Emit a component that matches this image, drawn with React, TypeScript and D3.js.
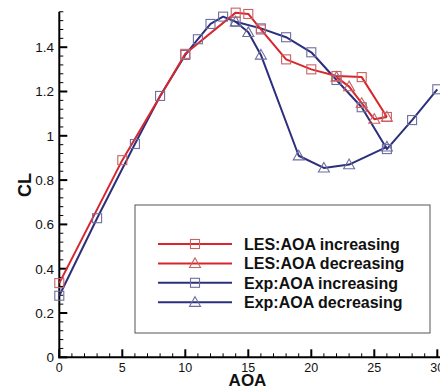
import React from "react";
import * as d3 from "d3";

const lesIncAoa = [0, 5, 10, 14, 15, 16, 18, 20, 22, 24, 26];
const lesIncCl = [0.335, 0.89, 1.37, 1.556, 1.55, 1.48, 1.345, 1.3, 1.27, 1.265, 1.085];
const lesDecAoa = [26, 25, 24, 23, 22];
const lesDecCl = [1.085, 1.075, 1.147, 1.222, 1.265];
const expIncAoa = [0, 3, 6, 8, 10, 11, 12, 13, 14, 16, 18, 20, 22, 24, 26, 28, 30];
const expIncCl = [0.278, 0.628, 0.963, 1.18, 1.365, 1.436, 1.505, 1.538, 1.515, 1.485, 1.445, 1.377, 1.252, 1.129, 0.94, 1.071, 1.21];
const expDecAoa = [26, 23, 21, 19, 16, 15, 14];
const expDecCl = [0.95, 0.87, 0.855, 0.91, 1.365, 1.467, 1.515];

const xTicks = [0, 5, 10, 15, 20, 25, 30];
const yTicks = [0, 0.2, 0.4, 0.6, 0.8, 1, 1.2, 1.4];
const legendLabels = ["LES:AOA increasing", "LES:AOA decreasing", "Exp:AOA increasing", "Exp:AOA decreasing"];

const RED = "#d8262c";
const BLUE = "#2c307c";
const RED_M = "#c96262";
const BLUE_M = "#6e6ea0";

const W = 440, H = 389;
const x = d3.scaleLinear().domain([0, 30]).range([59.3, 437.3]);
const y = d3.scaleLinear().domain([0, 1.56]).range([357.3, 357.3 - 1.56 * 221.5]);

type Series = { aoa: number[]; cl: number[]; color: string; mcolor: string; marker: "sq" | "tri" };
const series: Series[] = [
  { aoa: expIncAoa, cl: expIncCl, color: BLUE, mcolor: BLUE_M, marker: "sq" },
  { aoa: expDecAoa, cl: expDecCl, color: BLUE, mcolor: BLUE_M, marker: "tri" },
  { aoa: lesIncAoa, cl: lesIncCl, color: RED, mcolor: RED_M, marker: "sq" },
  { aoa: lesDecAoa, cl: lesDecCl, color: RED, mcolor: RED_M, marker: "tri" },
];
const legendSeries = [series[2], series[3], series[0], series[1]];

function Marker({ cx, cy, kind, color }: { cx: number; cy: number; kind: string; color: string }) {
  if (kind === "sq") {
    return <rect x={cx - 4.5} y={cy - 4.5} width={9} height={9} fill="none" stroke={color} strokeWidth={1.1} />;
  }
  const s = 5.5;
  return (
    <path
      d={`M${cx},${cy - s}L${cx + s},${cy + s * 0.75}L${cx - s},${cy + s * 0.75}Z`}
      fill="none"
      stroke={color}
      strokeWidth={1.1}
    />
  );
}

export default function App() {
  const line = d3
    .line<[number, number]>()
    .x((d) => x(d[0]))
    .y((d) => y(d[1]));

  const xMinor = d3.range(0, 31, 1).filter((v) => v % 5 !== 0);
  const yMinor = d3.range(0, 1.57, 0.04).filter((v) => Math.abs(v / 0.2 - Math.round(v / 0.2)) > 1e-6);

  const font = "Liberation Sans, Arial, sans-serif";
  const lx0 = 158, lx1 = 232, lmx = 195, ltx = 244;
  const ly = [244, 263.4, 282.8, 302.2];

  return (
    <svg width={W} height={H} style={{ position: "absolute", left: 0, top: 0, background: "#fff" }} fontFamily={font}>
      <rect x={0} y={0} width={W} height={H} fill="#fff" />
      {/* axes */}
      <line x1={x(0)} x2={x(0)} y1={y(0) + 1} y2={y(1.56)} stroke="#000" strokeWidth={2} />
      <line x1={x(0) - 1} x2={W} y1={y(0)} y2={y(0)} stroke="#000" strokeWidth={2} />
      {xTicks.map((t) => (
        <g key={"xt" + t}>
          <line x1={x(t)} x2={x(t)} y1={y(0)} y2={y(0) - 8} stroke="#000" strokeWidth={2} />
          <text x={x(t)} y={371.5} textAnchor="middle" fontSize={12.5} fill="#111">
            {t}
          </text>
        </g>
      ))}
      {xMinor.map((t) => (
        <line key={"xm" + t} x1={x(t)} x2={x(t)} y1={y(0)} y2={y(0) - 4} stroke="#000" strokeWidth={1} />
      ))}
      {yTicks.map((t) => (
        <g key={"yt" + t}>
          <line x1={x(0)} x2={x(0) + 8} y1={y(t)} y2={y(t)} stroke="#000" strokeWidth={2} />
          <text x={54} y={y(t) + 4.8} textAnchor="end" fontSize={13.5} fill="#111">
            {d3.format("~g")(t)}
          </text>
        </g>
      ))}
      {yMinor.map((t, i) => (
        <line key={"ym" + i} x1={x(0)} x2={x(0) + 4} y1={y(t)} y2={y(t)} stroke="#000" strokeWidth={1} />
      ))}
      <text x={247.5} y={386} textAnchor="middle" fontSize={17} fontWeight="bold" fill="#111">
        AOA
      </text>
      <text transform="translate(30.5,185) rotate(-90)" textAnchor="middle" fontSize={18} fontWeight="bold" fill="#111">
        CL
      </text>

      {/* series */}
      {series.map((s, i) => (
        <path
          key={"l" + i}
          d={line(s.aoa.map((a, j) => [a, s.cl[j]] as [number, number])) || ""}
          fill="none"
          stroke={s.color}
          strokeWidth={2}
          strokeLinejoin="round"
        />
      ))}
      {series.map((s, i) =>
        s.aoa.map((a, j) => (
          <Marker key={"m" + i + "_" + j} cx={x(a)} cy={y(s.cl[j])} kind={s.marker} color={s.mcolor} />
        ))
      )}

      {/* legend */}
      <rect x={135} y={205} width={295} height={128} fill="#fff" stroke="#555" strokeWidth={1} />
      {legendSeries.map((s, i) => (
        <g key={"lg" + i}>
          <line x1={lx0} x2={lx1} y1={ly[i]} y2={ly[i]} stroke={s.color} strokeWidth={2} />
          <Marker cx={lmx} cy={ly[i]} kind={s.marker} color={s.mcolor} />
          <text x={ltx} y={ly[i] + 5.8} fontSize={16} fontWeight="bold" fill="#111">
            {legendLabels[i]}
          </text>
        </g>
      ))}
    </svg>
  );
}
